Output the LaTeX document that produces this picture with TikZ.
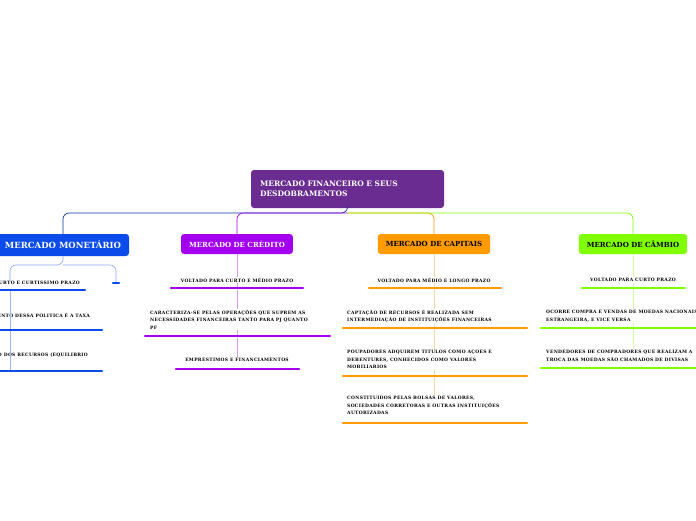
\documentclass[tikz,border=0pt]{standalone}
\usepackage{fontspec}
\setmainfont{DejaVu Serif}
\newfontfamily\leaffont[LetterSpace=7]{DejaVu Serif}
\begin{document}
\begin{tikzpicture}[x=1pt,y=-1pt,
 main/.style={rounded corners=3pt,font=\bfseries\fontsize{7}{8}\selectfont,inner xsep=8pt,minimum height=20pt},
 leaf/.style={font=\leaffont\bfseries\fontsize{4.5}{7.5}\selectfont,inner sep=0pt,align=left},
 ul/.style={line width=2.4pt,line cap=round},
 conn/.style={line width=0.7pt,rounded corners=6pt}]
\definecolor{cpur}{HTML}{6A2C91}
\definecolor{cblue}{HTML}{0A4BEA}
\definecolor{cvio}{HTML}{A200EE}
\definecolor{corg}{HTML}{FF9A00}
\definecolor{cgrn}{HTML}{7FFF00}
\clip (0,0) rectangle (696,520);
\fill[white] (0,0) rectangle (696,520);
\node[main,fill=cpur,text=white,minimum width=193pt,minimum height=38pt,align=left,text width=175pt,font=\bfseries\fontsize{7.5}{9.5}\selectfont] (root) at (347.5,189) {MERCADO FINANCEIRO E SEUS\\DESDOBRAMENTOS};
\node[main,fill=cblue,text=white,font=\bfseries\fontsize{8.5}{9}\selectfont,minimum height=22pt] (mon) at (63,245) {MERCADO MONETÁRIO};
\node[main,fill=cvio,text=white] (cre) at (237,244) {MERCADO DE CRÉDITO};
\node[main,fill=corg,text=black] (cap) at (434,244) {MERCADO DE CAPITAIS};
\node[main,fill=cgrn,text=black] (cam) at (633,244) {MERCADO DE CÂMBIO};
\coordinate (hub) at (347.5,213);
\draw[conn,cblue!70!black] (root.south) -- (hub) -| (mon.north);
\draw[conn,cvio] (hub) -| (cre.north);
\draw[conn,corg] (hub) -| (cap.north);
\draw[conn,cgrn] (hub) -| (cam.north);
% monetario
\node[leaf,anchor=east] (m1) at (80,283) {VOLTADO PARA CURTO E CURTISSIMO PRAZO};
\node[leaf,anchor=east] (m2) at (90,315) {O INSTRUMENTO DESSA POLITICA É A TAXA};
\node[leaf,anchor=east] (m3) at (88,355) {EQUILIBRIO DOS RECURSOS (EQUILIBRIO};
\coordinate (m4) at (116,283);
\coordinate (br) at (63,265);
\draw[conn,cblue!50,line width=0.6pt] (mon.south) -- (br) -| (10,282);
\draw[conn,cblue!50,line width=0.6pt] (br) -| (m4);
\draw[cblue!40,line width=0.6pt] (10,290) -- (10,330) (10,330) -- (10,371);
\draw[ul,cblue] (-10,290) -- (85,290);
\draw[ul,cblue] (113,283) -- (119,283);
\draw[ul,cblue] (-10,330) -- (102,330);
\draw[ul,cblue] (-10,371) -- (102,371);
% credito
\draw[cvio!40,line width=0.7pt] (cre.south) -- (237,360);
\node[leaf,fill=white,inner sep=1pt] (c1) at (237,280) {VOLTADO PARA CURTO E MÉDIO PRAZO};
\node[leaf,fill=white,inner sep=1pt,anchor=north west] (c2) at (149,309) {CARACTERIZA-SE PELAS OPERAÇÕES QUE SUPREM AS\\NECESSIDADES FINANCEIRAS TANTO PARA PJ QUANTO\\PF};
\node[leaf,fill=white,inner sep=1pt] (c3) at (237,360) {EMPRESTIMOS E FINANCIAMENTOS};
\draw[ul,cvio] (171,288) -- (303,288);
\draw[ul,cvio] (145,336) -- (330,336);
\draw[ul,cvio] (176,369) -- (299,369);
% capitais
\draw[corg!40,line width=0.7pt] (cap.south) -- (434,400);
\node[leaf,fill=white,inner sep=1pt] (p1) at (434,280) {VOLTADO PARA MÉDIO E LONGO PRAZO};
\node[leaf,fill=white,inner sep=1pt,anchor=north west] (p2) at (346,309) {CAPTAÇÃO DE RECURSOS É REALIZADA SEM\\INTERMEDIAÇÃO DE INSTITUIÇÕES FINANCEIRAS};
\node[leaf,fill=white,inner sep=1pt,anchor=north west] (p3) at (346,349) {POUPADORES ADQUIREM TITULOS COMO AÇOES E\\DEBENTURES, CONHECIDOS COMO VALORES\\MOBILIARIOS};
\node[leaf,fill=white,inner sep=1pt,anchor=north west] (p4) at (346,395) {CONSTITUIDOS PELAS BOLSAS DE VALORES,\\SOCIEDADES CORRETORAS E OUTRAS INSTITUIÇÕES\\AUTORIZADAS};
\draw[ul,corg] (369,288) -- (501,288);
\draw[ul,corg] (343,328) -- (527,328);
\draw[ul,corg] (343,376) -- (527,376);
\draw[ul,corg] (343,423) -- (527,423);
% cambio
\draw[cgrn!40,line width=0.7pt] (cam.south) -- (633,355);
\node[leaf,fill=white,inner sep=1pt] (g1) at (633,280) {VOLTADO PARA CURTO PRAZO};
\node[leaf,fill=white,inner sep=1pt,anchor=north west] (g2) at (545,309) {OCORRE COMPRA E VENDAS DE MOEDAS NACIONAIS E\\ESTRANGEIRA, E VICE VERSA};
\node[leaf,fill=white,inner sep=1pt,anchor=north west] (g3) at (545,349) {VENDEDORES DE COMPRADORES QUE REALIZAM A\\TROCA DAS MOEDAS SÃO CHAMADOS DE DIVISAS};
\draw[ul,cgrn] (582,288) -- (685,288);
\draw[ul,cgrn] (541,328) -- (700,328);
\draw[ul,cgrn] (541,368) -- (700,368);
\end{tikzpicture}
\end{document}
